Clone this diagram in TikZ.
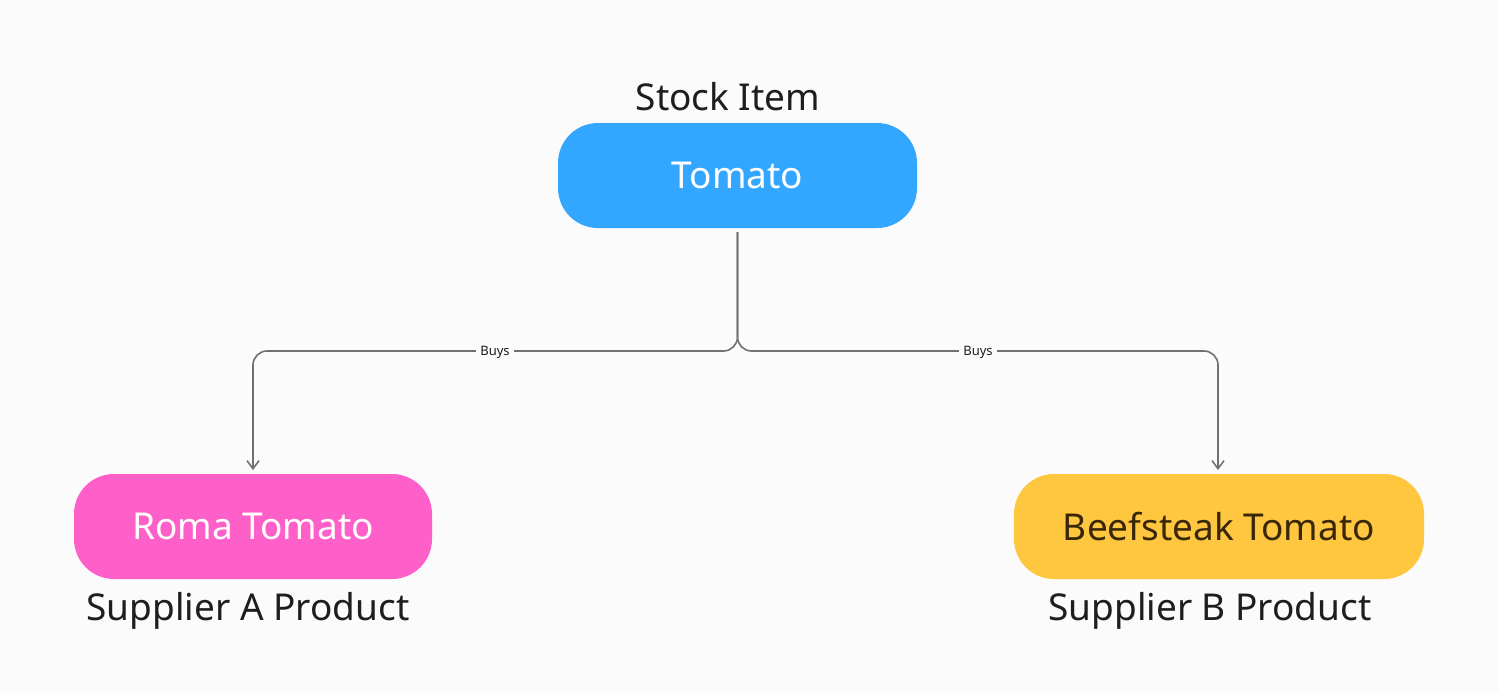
\documentclass[tikz,border=0pt]{standalone}
\usepackage{fontspec}
\setmainfont{Noto Sans}
\usetikzlibrary{arrows.meta}
\definecolor{bg}{HTML}{FBFBFB}
\definecolor{cblue}{HTML}{33A7FF}
\definecolor{cpink}{HTML}{FF5FC8}
\definecolor{cyel}{HTML}{FFC640}
\definecolor{tdark}{HTML}{1E1E1E}
\definecolor{tbrown}{HTML}{3A2708}
\definecolor{lgray}{HTML}{707070}
\begin{document}
\begin{tikzpicture}[x=1pt,y=-1pt,
  box/.style={rounded corners=40pt,inner sep=0pt,font=\fontsize{37}{44}\selectfont},
  caption/.style={font=\fontsize{37}{44}\selectfont,text=tdark},
  conn/.style={draw=lgray,line width=1.6pt,rounded corners=14pt,-{Straight Barb[length=8pt,width=12pt]}},
  lab/.style={fill=bg,font=\fontsize{13}{15}\selectfont,text=tdark,inner sep=4pt}]
\fill[bg] (0,0) rectangle (1499,693);
\useasboundingbox (0,0) rectangle (1499,693);
\node[box,fill=cblue,text=white,minimum width=359pt,minimum height=105pt] (tom) at (737.5,175.5) {Tomato};
\node[box,fill=cpink,text=white,minimum width=358pt,minimum height=105pt] (roma) at (253,526.5) {Roma Tomato};
\node[box,fill=cyel,text=tbrown,minimum width=410pt,minimum height=105pt] (beef) at (1219,526.5) {Beefsteak Tomato};
\node[caption] (l1) at (728,97) {Stock Item};
\node[caption] (l2) at (248,611) {Supplier A Product};
\node[caption] (l3) at (1210,611) {Supplier B Product};
\coordinate (ta) at (737.5,232);
\coordinate (ra) at (253,470);
\coordinate (ba) at (1218,470);
\draw[conn] (ta) -- (737.5,351) -- (253,351) -- (ra);
\draw[conn] (ta) -- (737.5,351) -- (1218,351) -- (ba);
\node[lab] (b1) at (495,352) {Buys};
\node[lab] (b2) at (978,352) {Buys};
\end{tikzpicture}
\end{document}
